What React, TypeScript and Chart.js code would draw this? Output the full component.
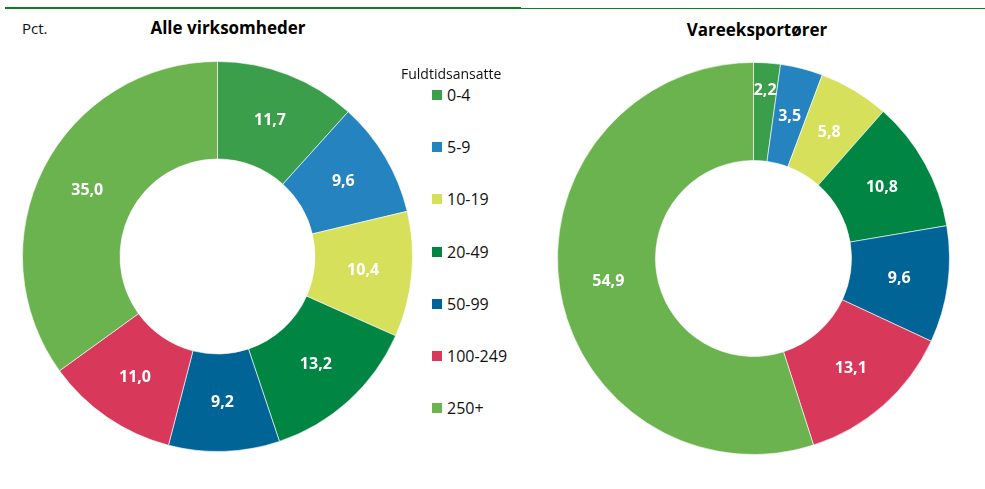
import React, { useEffect, useRef } from "react";
import { Chart, registerables } from "chart.js";

Chart.register(...registerables);

const categories = ["0-4", "5-9", "10-19", "20-49", "50-99", "100-249", "250+"];
const alleValues = [11.7, 9.6, 10.4, 13.2, 9.2, 11.0, 35.0];
const eksportValues = [2.2, 3.5, 5.8, 10.8, 9.6, 13.1, 54.9];
const colors = ["#3a9e4a", "#2584bf", "#d6e05a", "#008542", "#006496", "#d8395a", "#6ab34e"];
const legendTitle = "Fuldtidsansatte";
const titleLeft = "Alle virksomheder";
const titleRight = "Vareeksportører";
const unitLabel = "Pct.";

const FONT = "'Open Sans', 'Noto Sans', sans-serif";

const labelPlugin = {
  id: "sliceLabels",
  afterDatasetsDraw(chart: any) {
    const ctx = chart.ctx;
    const meta = chart.getDatasetMeta(0);
    const data = chart.data.datasets[0].data as number[];
    ctx.save();
    ctx.fillStyle = "#ffffff";
    ctx.font = `bold 16px ${FONT}`;
    ctx.textAlign = "center";
    ctx.textBaseline = "middle";
    meta.data.forEach((arc: any, i: number) => {
      const p = arc.getProps(["x", "y", "startAngle", "endAngle", "innerRadius", "outerRadius"], true);
      const mid = (p.startAngle + p.endAngle) / 2;
      const frac = data[i] < 3 ? 0.72 : 0.5;
      const r = p.innerRadius + (p.outerRadius - p.innerRadius) * frac;
      const x = p.x + Math.cos(mid) * r;
      const y = p.y + Math.sin(mid) * r;
      ctx.fillText(data[i].toFixed(1).replace(".", ","), x, y);
    });
    ctx.restore();
  },
};

function Donut({ values, size }: { values: number[]; size: number }) {
  const ref = useRef<HTMLCanvasElement>(null);
  useEffect(() => {
    const chart = new Chart(ref.current!, {
      type: "doughnut",
      data: {
        labels: categories,
        datasets: [
          {
            data: values,
            backgroundColor: colors,
            borderColor: "rgba(255,255,255,0.6)",
            borderWidth: 1,
          },
        ],
      },
      options: {
        responsive: false,
        animation: false,
        cutout: "50%",
        layout: { padding: 0 },
        plugins: { legend: { display: false }, tooltip: { enabled: false } },
      },
      plugins: [labelPlugin],
    });
    return () => chart.destroy();
  }, [values, size]);
  return <canvas ref={ref} width={size} height={size} style={{ width: size, height: size }} />;
}

export default function App() {
  useEffect(() => {
    document.body.style.margin = "0";
  }, []);
  return (
    <div style={{ position: "relative", width: 985, height: 489, background: "#fff", fontFamily: FONT, overflow: "hidden" }}>
      <div style={{ position: "absolute", left: 5, top: 7, width: 516, height: 2, background: "#0a7f1e" }} />
      <div style={{ position: "absolute", left: 521, top: 8, width: 464, height: 1, background: "#0a7f1e" }} />
      <div style={{ position: "absolute", left: 22, top: 18, fontSize: 15, color: "#111" }}>{unitLabel}</div>
      <div style={{ position: "absolute", left: 128, width: 200, top: 16, textAlign: "center", fontSize: 17, fontWeight: 700, color: "#000" }}>{titleLeft}</div>
      <div style={{ position: "absolute", left: 657, width: 200, top: 18, textAlign: "center", fontSize: 17, fontWeight: 700, color: "#000" }}>{titleRight}</div>
      <div style={{ position: "absolute", left: 22, top: 61 }}>
        <Donut values={alleValues} size={391} />
      </div>
      <div style={{ position: "absolute", left: 557, top: 62 }}>
        <Donut values={eksportValues} size={393} />
      </div>
      <div style={{ position: "absolute", left: 401, top: 64, fontSize: 14, color: "#111" }}>{legendTitle}</div>
      {categories.map((c, i) => (
        <div key={c} style={{ position: "absolute", left: 432, top: 84 + i * 52.2, height: 22, display: "flex", alignItems: "center", fontSize: 16, color: "#111" }}>
          <span style={{ display: "inline-block", width: 10, height: 10, background: colors[i], marginRight: 5 }} />
          <span>{c}</span>
        </div>
      ))}
    </div>
  );
}
